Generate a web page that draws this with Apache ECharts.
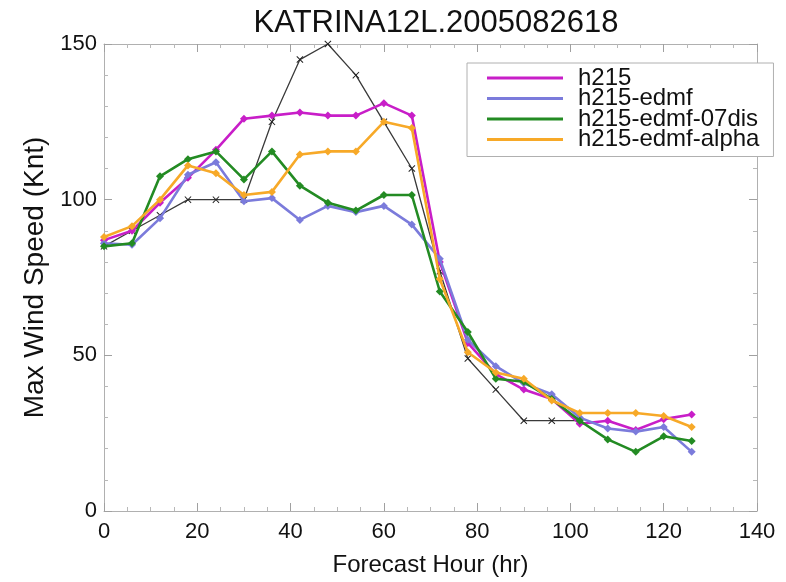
<!DOCTYPE html>
<html>
<head>
<meta charset="utf-8">
<script src="https://cdn.jsdelivr.net/npm/echarts@6/dist/echarts.min.js"></script>
<style>
html,body{margin:0;padding:0;background:#fff;}
#chart{width:786px;height:582px;}
</style>
</head>
<body>
<div id="chart"></div>
<script>
const titleText = "KATRINA12L.2005082618";
const hours = [0,6,12,18,24,30,36,42,48,54,60,66,72,78,84,90,96,102,108,114,120,126];
const obsHours = [0,6,12,18,24,30,36,42,48,54,60,66,72,78,84,90,96,102];
const obs = [85,90,95,100,100,100,125,145,150,140,125,110,77,49,39,29,29,29];
const seriesNames = ["h215","h215-edmf","h215-edmf-07dis","h215-edmf-alpha"];
const h215 = [87,90,99,107,116,126,127,128,127,127,131,127,80,54,44,39,36,28,29,26,29.5,31];
const edmf = [86,85.5,94,108,112,99.5,100.5,93.5,98,96,98,92,81,55,46.5,41,37.5,30,26.5,25.5,27,19];
const dis07 = [85,86,107.5,113,115.5,106.5,115.5,104.5,99,96.5,101.5,101.5,70.5,57.5,42.5,41.5,36,29,23,19,24,22.5];
const alpha = [88,91.5,100,111,108.5,101.5,102.5,114.5,115.5,115.5,125,123,74.5,51,44.5,42.5,35.5,31.5,31.5,31.5,30.5,27];
const xTicks = [0,20,40,60,80,100,120,140];
const yTicks = [0,50,100,150];

const colors = ['#c81ec8','#7b7bdb','#238b23','#f7a928'];
const values = [h215, edmf, dis07, alpha];
const font = "'Liberation Sans', Arial, sans-serif";
const xCross = 'path://M0,1L1,0L5,4L9,0L10,1L6,5L10,9L9,10L5,6L1,10L0,9L4,5Z';

const chart = echarts.init(document.getElementById('chart'), null, {renderer:'canvas'});

function axisBase(extra) {
  return Object.assign({
    type: 'value',
    axisLine: {show: true, onZero: false, lineStyle: {color: '#b0b0b0', width: 1}},
    axisTick: {show: true, inside: true, length: 8, lineStyle: {color: '#a0a0a0'}},
    splitLine: {show: false}
  }, extra);
}

const series = [{
  name: 'obs',
  type: 'line',
  data: obsHours.map((h,i)=>[h, obs[i]]),
  symbol: xCross,
  symbolSize: 7,
  lineStyle: {color: '#3a3a3a', width: 1.3},
  itemStyle: {color: '#222'},
  z: 1,
  animation: false
}];
seriesNames.forEach((n, k) => {
  series.push({
    name: n,
    type: 'line',
    data: hours.map((h,i)=>[h, values[k][i]]),
    symbol: 'diamond',
    symbolSize: 8,
    lineStyle: {color: colors[k], width: 2.6},
    itemStyle: {color: colors[k]},
    z: 2 + k,
    animation: false
  });
});

const xLabel = {show: true, margin: 10, fontFamily: font, fontSize: 22, color: '#111',
  formatter: v => xTicks.includes(v) ? String(v) : ''};
const yLabel = {show: true, margin: 7, fontFamily: font, fontSize: 22, color: '#111',
  formatter: v => yTicks.includes(v) ? String(v) : ''};
const xMinor = {show: true, splitNumber: 4, length: 4, lineStyle: {color: '#b8b8b8'}};
const yMinor = {show: true, splitNumber: 5, length: 4, lineStyle: {color: '#b8b8b8'}};

chart.setOption({
  animation: false,
  backgroundColor: '#fff',
  title: {
    text: titleText,
    left: 431, top: 3, textAlign: 'center',
    textStyle: {fontFamily: font, fontSize: 31, fontWeight: 'normal', color: '#111'}
  },
  grid: {left: 104, right: 29, top: 44, bottom: 69, containLabel: false},
  legend: {
    data: seriesNames,
    orient: 'vertical',
    left: 467, top: 63,
    backgroundColor: '#fff',
    borderColor: '#b0b0b0', borderWidth: 1, borderRadius: 0,
    padding: [3, 14, 5, 20],
    itemWidth: 76, itemHeight: 3, itemGap: -3.5,
    icon: 'rect',
    textStyle: {fontFamily: font, fontSize: 24, color: '#111', padding: [0,0,0,10]},
    z: 10
  },
  xAxis: [
    axisBase({position: 'bottom', min: 0, max: 140, interval: 20, minorTick: xMinor, axisLabel: xLabel,
      name: 'Forecast Hour (hr)', nameLocation: 'middle', nameGap: 42,
      nameTextStyle: {fontFamily: font, fontSize: 24, color: '#111'}}),
    axisBase({position: 'top', min: 0, max: 140, interval: 20, minorTick: xMinor, axisLabel: {show: false}})
  ],
  yAxis: [
    axisBase({position: 'left', min: 0, max: 150, interval: 50, minorTick: yMinor, axisLabel: yLabel,
      name: 'Max Wind Speed (Knt)', nameLocation: 'middle', nameGap: 52, nameRotate: 90,
      nameTextStyle: {fontFamily: font, fontSize: 28, color: '#111'}}),
    axisBase({position: 'right', min: 0, max: 150, interval: 50, minorTick: yMinor, axisLabel: {show: false}})
  ],
  series: series
});
</script>
</body>
</html>
